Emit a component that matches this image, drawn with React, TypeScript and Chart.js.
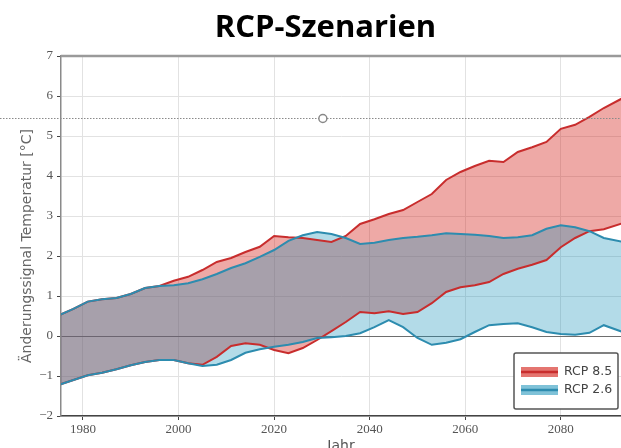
import React, { useEffect, useRef } from "react";
import { Chart, registerables } from "chart.js";

Chart.register(...registerables);

const titleText = "RCP-Szenarien";
const yAxisTitle = "Änderungssignal Temperatur [°C]";
const xAxisTitle = "Jahr";

const years = [
  1975, 1978, 1981, 1984, 1987, 1990, 1993, 1996, 1999, 2002,
  2005, 2008, 2011, 2014, 2017, 2020, 2023, 2026, 2029, 2032,
  2035, 2038, 2041, 2044, 2047, 2050, 2053, 2056, 2059, 2062,
  2065, 2068, 2071, 2074, 2077, 2080, 2083, 2086, 2089, 2093,
];

const rcp85Upper = [
  0.52, 0.68, 0.86, 0.92, 0.95, 1.05, 1.2, 1.25, 1.38, 1.48,
  1.65, 1.85, 1.95, 2.1, 2.23, 2.5, 2.47, 2.45, 2.4, 2.35,
  2.5, 2.8, 2.92, 3.05, 3.15, 3.35, 3.55, 3.9, 4.1, 4.25,
  4.38, 4.35, 4.6, 4.72, 4.85, 5.18, 5.28, 5.48, 5.7, 5.95,
];

const rcp85Lower = [
  -1.22, -1.1, -0.98, -0.92, -0.83, -0.73, -0.65, -0.6, -0.6, -0.68,
  -0.72, -0.52, -0.25, -0.18, -0.22, -0.35, -0.43, -0.3, -0.1, 0.12,
  0.35, 0.6, 0.57, 0.62, 0.55, 0.6, 0.82, 1.1, 1.22, 1.27,
  1.35, 1.55, 1.68, 1.78, 1.9, 2.22, 2.45, 2.62, 2.67, 2.82,
];

const rcp26Upper = [
  0.52, 0.68, 0.86, 0.92, 0.95, 1.05, 1.2, 1.25, 1.27, 1.32,
  1.42, 1.55, 1.7, 1.82, 1.98, 2.15, 2.38, 2.52, 2.6, 2.55,
  2.45, 2.3, 2.33, 2.4, 2.45, 2.48, 2.52, 2.57, 2.55, 2.53,
  2.5, 2.45, 2.47, 2.52, 2.68, 2.77, 2.72, 2.62, 2.45, 2.35,
];

const rcp26Lower = [
  -1.22, -1.1, -0.98, -0.92, -0.83, -0.73, -0.65, -0.6, -0.6, -0.68,
  -0.75, -0.72, -0.6, -0.42, -0.33, -0.27, -0.22, -0.15, -0.05, -0.03,
  0.0, 0.07, 0.22, 0.4, 0.22, -0.05, -0.22, -0.17, -0.08, 0.1,
  0.27, 0.3, 0.32, 0.22, 0.1, 0.05, 0.03, 0.08, 0.27, 0.1,
];

const seriesLabels = ["RCP 8.5", "RCP 2.6"];
const xTickYears = [1980, 2000, 2020, 2040, 2060, 2080];
const yTickValues = [-2, -1, 0, 1, 2, 3, 4, 5, 6, 7];
const xRange = [1975.4, 2092.6];
const yRange = [-2, 7];
const markerValue = 5.45;
const markerYear = 2030.2;

const redLine = "rgb(200,45,45)";
const redFill = "rgba(212,40,32,0.4)";
const blueLine = "rgb(45,140,175)";
const blueFill = "rgba(19,143,184,0.32)";

const toPoints = (vals: number[]) => vals.map((v, i) => ({ x: years[i], y: v }));

const overlayPlugin = {
  id: "overlay",
  afterDraw(chart: any) {
    const { ctx, chartArea, scales } = chart;
    ctx.save();
    // title
    ctx.fillStyle = "#000";
    ctx.font = "bold 31px 'Open Sans'";
    ctx.textAlign = "center";
    ctx.textBaseline = "middle";
    ctx.fillText(titleText, chart.width / 2 + 15, 28);

    // y axis title
    ctx.save();
    ctx.translate(27, (chartArea.top + chartArea.bottom) / 2 + 10);
    ctx.rotate(-Math.PI / 2);
    ctx.fillStyle = "#666";
    ctx.font = "14px 'DejaVu Sans'";
    ctx.fillText(yAxisTitle, 0, 0);
    ctx.restore();

    // top spine
    ctx.strokeStyle = "#9a9a9a";
    ctx.lineWidth = 2.5;
    ctx.beginPath();
    ctx.moveTo(chartArea.left, chartArea.top);
    ctx.lineTo(chartArea.right, chartArea.top);
    ctx.stroke();

    // dotted marker line with circle
    const yy = Math.round(scales.y.getPixelForValue(markerValue)) + 0.5;
    ctx.setLineDash([1.5, 1.5]);
    ctx.lineWidth = 1;
    ctx.strokeStyle = "#8a8a8a";
    ctx.beginPath();
    ctx.moveTo(0, yy);
    ctx.lineTo(chart.width, yy);
    ctx.stroke();
    ctx.setLineDash([]);
    const xx = scales.x.getPixelForValue(markerYear);
    ctx.beginPath();
    ctx.arc(xx, yy, 4, 0, Math.PI * 2);
    ctx.fillStyle = "#fff";
    ctx.fill();
    ctx.lineWidth = 1.5;
    ctx.strokeStyle = "#888";
    ctx.stroke();

    // legend box
    const w = 104;
    const h = 56;
    const right = chartArea.right - 3;
    const bottom = chartArea.bottom - 7;
    const left = right - w;
    const top = bottom - h;
    ctx.fillStyle = "#fff";
    ctx.strokeStyle = "#555";
    ctx.lineWidth = 1.5;
    ctx.beginPath();
    ctx.roundRect(left, top, w, h, 2);
    ctx.fill();
    ctx.stroke();
    const entries = [
      { label: seriesLabels[0], line: redLine, fill: redFill },
      { label: seriesLabels[1], line: blueLine, fill: blueFill },
    ];
    entries.forEach((e, i) => {
      const cy = top + 19 + i * 18;
      ctx.fillStyle = e.fill;
      ctx.fillRect(left + 7, cy - 5, 37, 10);
      ctx.fillRect(left + 7, cy - 5, 37, 10);
      ctx.strokeStyle = e.line;
      ctx.lineWidth = 2.5;
      ctx.beginPath();
      ctx.moveTo(left + 7, cy);
      ctx.lineTo(left + 44, cy);
      ctx.stroke();
      ctx.fillStyle = "#444";
      ctx.font = "12.5px 'DejaVu Sans'";
      ctx.textBaseline = "middle";
      ctx.textAlign = "left";
      ctx.fillText(e.label, left + 50, cy);
    });
    ctx.restore();
  },
};

export default function App() {
  const ref = useRef<HTMLCanvasElement | null>(null);

  useEffect(() => {
    if (!ref.current) return;
    const lineCommon = {
      pointRadius: 0,
      borderWidth: 2,
      tension: 0,
    };
    const chart = new Chart(ref.current, {
      type: "line",
      data: {
        datasets: [
          {
            ...lineCommon,
            label: seriesLabels[1] + " max",
            data: toPoints(rcp26Upper),
            borderColor: blueLine,
            backgroundColor: blueFill,
            fill: 1,
          },
          {
            ...lineCommon,
            label: seriesLabels[1] + " min",
            data: toPoints(rcp26Lower),
            borderColor: blueLine,
            fill: false,
          },
          {
            ...lineCommon,
            label: seriesLabels[0] + " max",
            data: toPoints(rcp85Upper),
            borderColor: redLine,
            backgroundColor: redFill,
            fill: 3,
          },
          {
            ...lineCommon,
            label: seriesLabels[0] + " min",
            data: toPoints(rcp85Lower),
            borderColor: redLine,
            fill: false,
          },
        ],
      },
      options: {
        animation: false,
        responsive: false,
        layout: { padding: 0 },
        plugins: {
          legend: { display: false },
          tooltip: { enabled: false },
          filler: { drawTime: "beforeDatasetsDraw" },
          title: {
            display: true,
            text: titleText,
            color: "rgba(0,0,0,0)",
            font: { family: "'Open Sans'", size: 31, weight: "bold", lineHeight: 1.2 },
            padding: { top: 10, bottom: 8.8 },
          },
        },
        scales: {
          x: {
            type: "linear",
            min: xRange[0],
            max: xRange[1],
            afterBuildTicks: (scale: any) => {
              scale.ticks = xTickYears.map((v) => ({ value: v }));
            },
            afterFit: (scale: any) => {
              scale.height = 54;
            },
            ticks: {
              color: "#555",
              font: { family: "'Liberation Serif'", size: 13 },
              padding: 2,
              maxRotation: 0,
              callback: (v: any) => String(v),
            },
            grid: {
              color: "#e2e2e2",
              lineWidth: 1,
              tickLength: 4,
              tickColor: "#444",
            },
            border: { color: "#444", width: 1.5 },
            title: {
              display: true,
              text: xAxisTitle,
              color: "#555",
              font: { family: "'DejaVu Sans'", size: 14 },
              padding: { top: 0, bottom: 15.6 },
            },
          },
          y: {
            type: "linear",
            min: yRange[0],
            max: yRange[1],
            afterBuildTicks: (scale: any) => {
              scale.ticks = yTickValues.map((v) => ({ value: v }));
            },
            afterFit: (scale: any) => {
              scale.width = 61;
            },
            ticks: {
              color: "#555",
              font: { family: "'Liberation Serif'", size: 13 },
              padding: 4,
              callback: (v: any) => (v < 0 ? "\u2212" + Math.abs(v) : String(v)),
            },
            grid: {
              color: (c: any) => (c.tick && c.tick.value === 0 ? "#6e6e6e" : "#e2e2e2"),
              lineWidth: 1,
              tickLength: 4,
              tickColor: "#444",
            },
            border: { color: "#8a8a8a", width: 1.5 },
            title: { display: false },
          },
        },
      },
      plugins: [overlayPlugin],
    } as any);
    return () => chart.destroy();
  }, []);

  return (
    <div style={{ position: "fixed", left: 0, top: 0, width: 621, height: 470, background: "#fff" }}>
      <canvas ref={ref} width={621} height={470} style={{ display: "block" }} />
    </div>
  );
}
